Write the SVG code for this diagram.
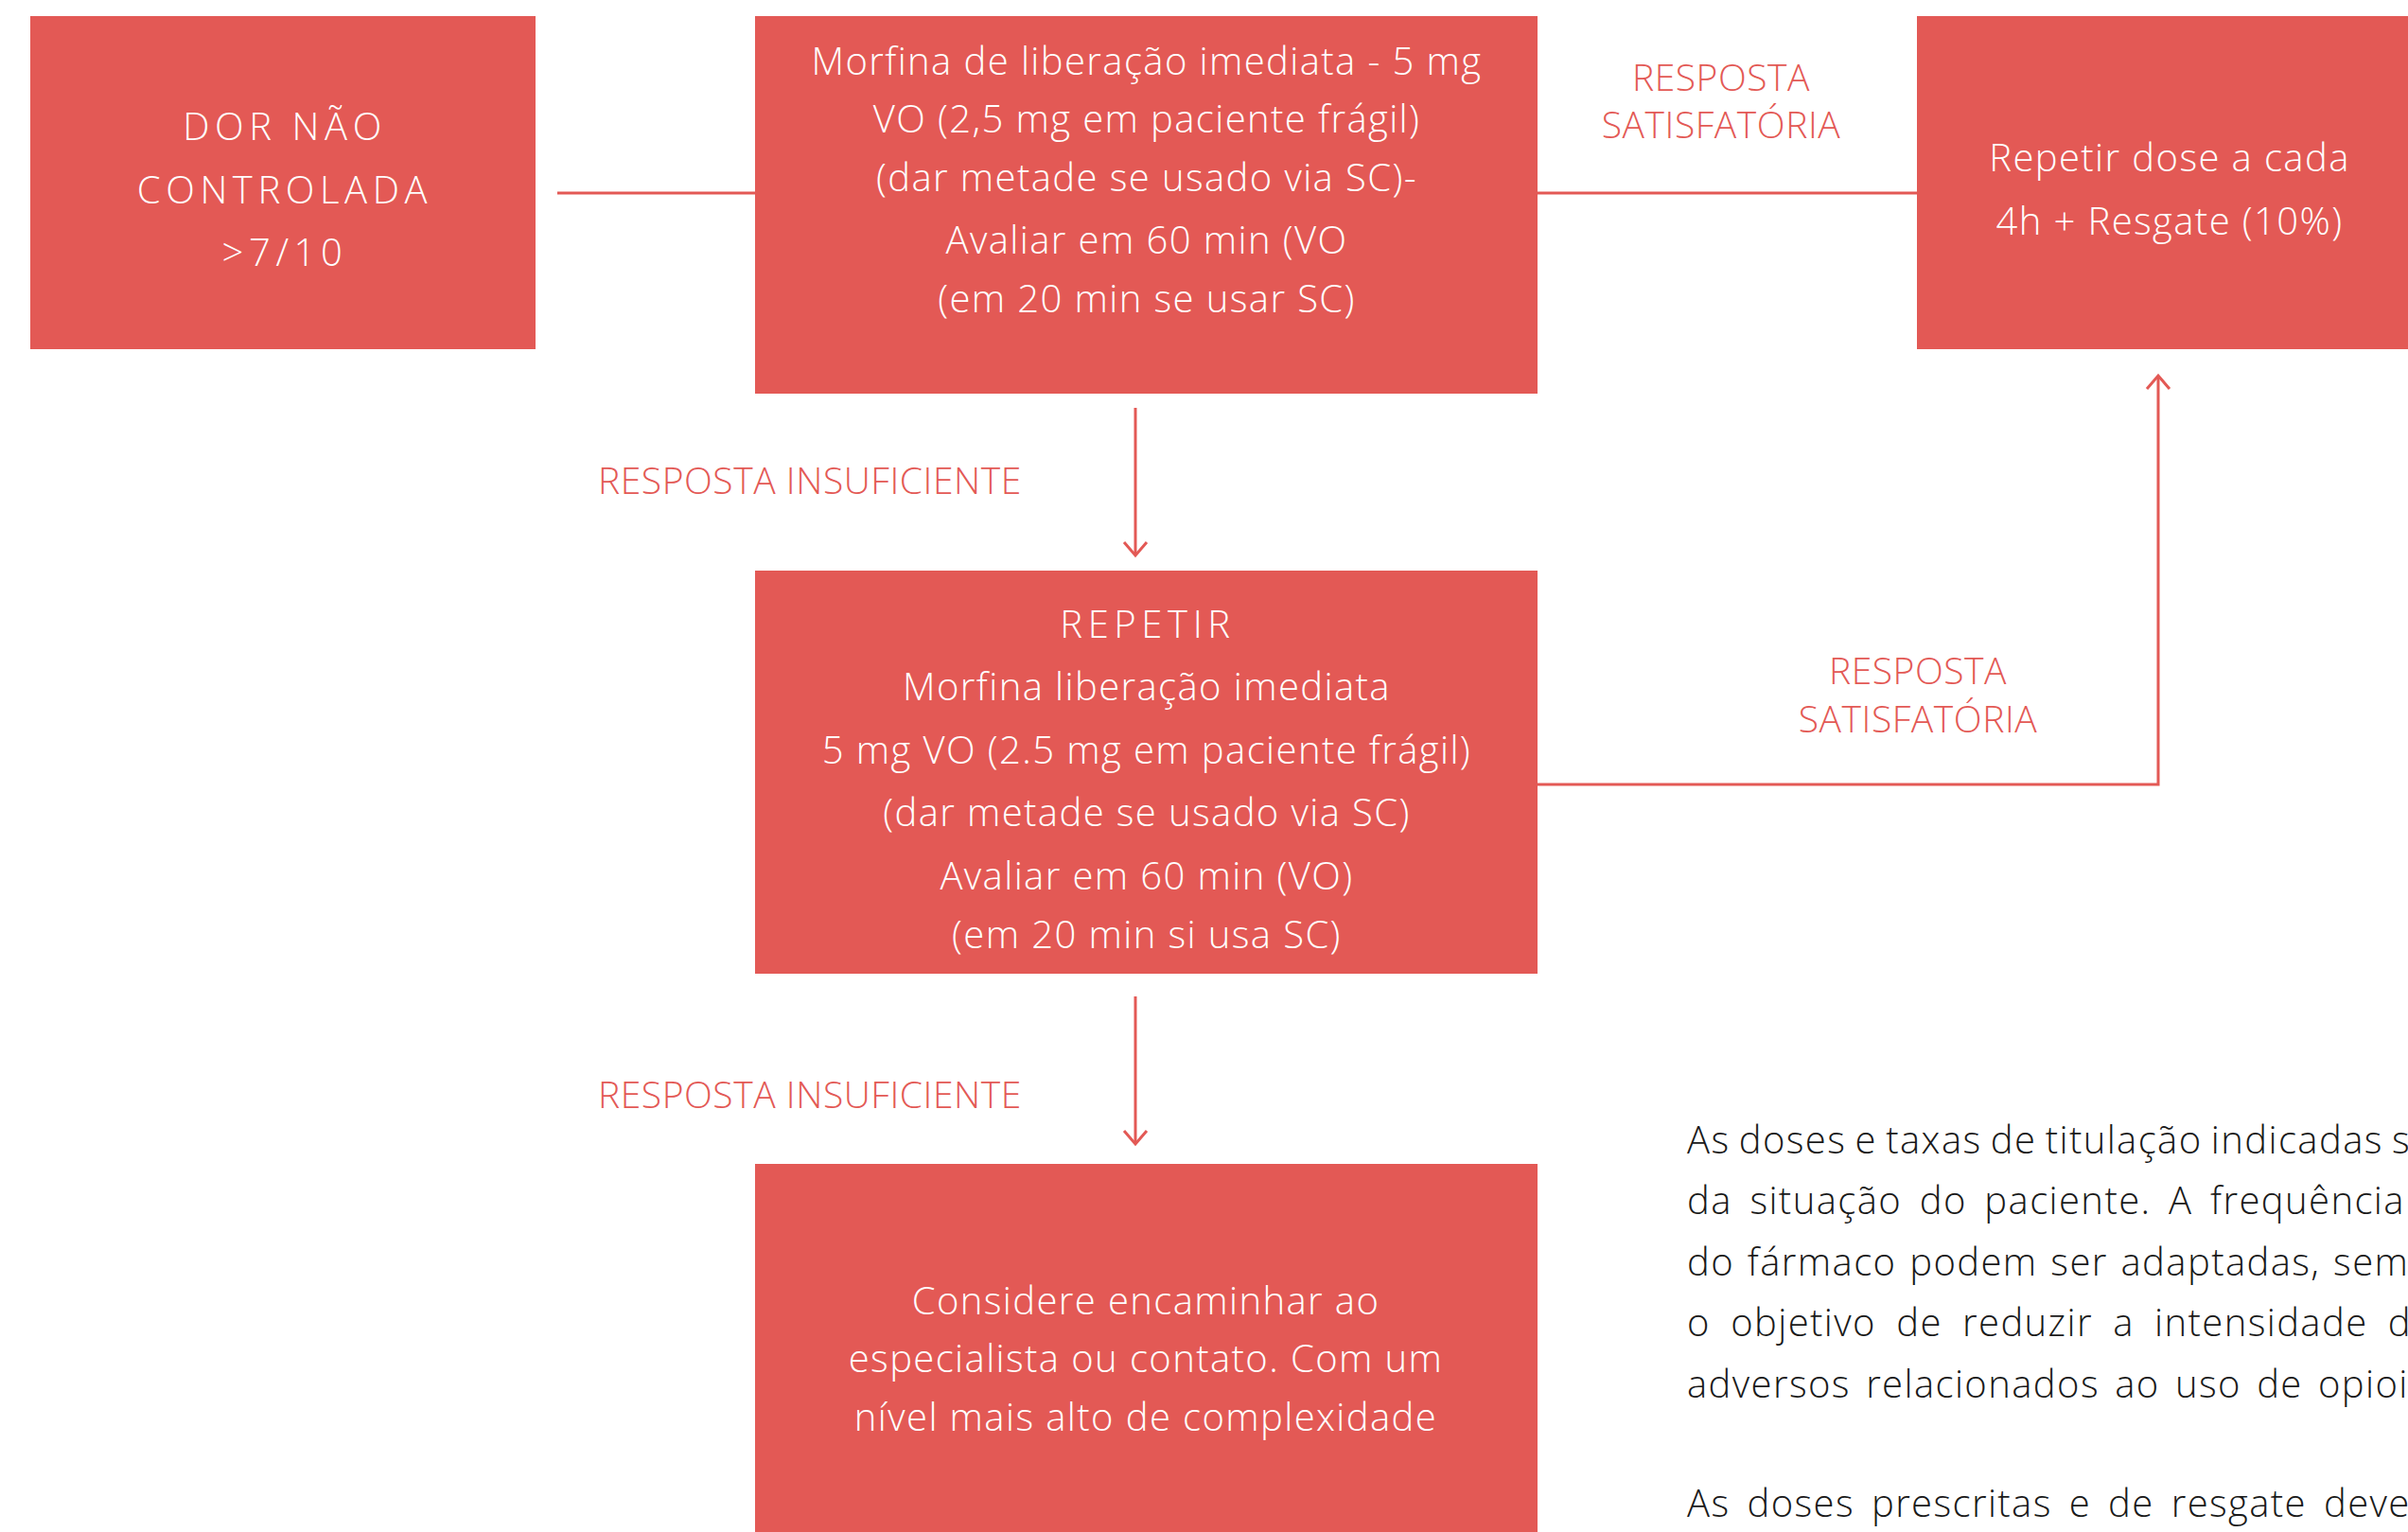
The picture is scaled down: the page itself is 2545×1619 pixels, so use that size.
<svg xmlns="http://www.w3.org/2000/svg" width="2545" height="1619" viewBox="0 0 2545 1619">
<defs>
<style>
.box{fill:#e35955}
.nt{font-family:"Open Sans","Liberation Sans",sans-serif;font-weight:300;font-size:40px;fill:#ffffff;text-anchor:middle;letter-spacing:1.4px}
.sp{letter-spacing:5.6px}
.lbl{font-family:"Open Sans","Liberation Sans",sans-serif;font-weight:300;font-size:39px;fill:#e35955;letter-spacing:0.55px}
.par{font-family:"Open Sans","Liberation Sans",sans-serif;font-weight:300;font-size:40px;fill:#1a1a1a;letter-spacing:1.4px}
.ln{fill:none;stroke:#e35955;stroke-width:3}
</style>
<marker id="arr" viewBox="-2 -2 20 28" markerWidth="20" markerHeight="28" refX="14" refY="12" orient="auto" markerUnits="userSpaceOnUse">
<path d="M0,0 L14,12 L0,24" fill="none" stroke="#e35955" stroke-width="3"/>
</marker>
</defs>
<rect width="2545" height="1619" fill="#ffffff"/>
<g id="connectors">
<path class="ln" d="M589,204 H798"/>
<path class="ln" d="M1625,204 H2026"/>
<path class="ln" d="M1200,431 V587" marker-end="url(#arr)"/>
<path class="ln" d="M1625,829 H2281 V397" marker-end="url(#arr)"/>
<path class="ln" d="M1200,1053 V1209" marker-end="url(#arr)"/>
<text class="lbl" x="1819" y="96" text-anchor="middle">RESPOSTA</text>
<text class="lbl" x="1819" y="146" text-anchor="middle">SATISFATÓRIA</text>
<text class="lbl" x="632" y="522">RESPOSTA INSUFICIENTE</text>
<text class="lbl" x="2027" y="723" text-anchor="middle">RESPOSTA</text>
<text class="lbl" x="2027" y="774" text-anchor="middle">SATISFATÓRIA</text>
<text class="lbl" x="632" y="1171">RESPOSTA INSUFICIENTE</text>
</g>
<g id="n1">
<rect class="box" x="32" y="17" width="534" height="352"/>
<text class="nt sp" x="301" y="148">DOR NÃO</text>
<text class="nt sp" x="301" y="215">CONTROLADA</text>
<text class="nt sp" x="301" y="281">&gt;7/10</text>
</g>
<g id="n2">
<rect class="box" x="798" y="17" width="827" height="399"/>
<text class="nt" x="1212" y="79">Morfina de liberação imediata - 5 mg</text>
<text class="nt" x="1212" y="140">VO (2,5 mg em paciente frágil)</text>
<text class="nt" x="1212" y="202">(dar metade se usado via SC)-</text>
<text class="nt" x="1212" y="268">Avaliar em 60 min (VO</text>
<text class="nt" x="1212" y="330">(em 20 min se usar SC)</text>
</g>
<g id="n3">
<rect class="box" x="2026" y="17" width="540" height="352"/>
<text class="nt" x="2293" y="181">Repetir dose a cada</text>
<text class="nt" x="2293" y="248">4h + Resgate (10%)</text>
</g>
<g id="n4">
<rect class="box" x="798" y="603" width="827" height="426"/>
<text class="nt sp" x="1213" y="674">REPETIR</text>
<text class="nt" x="1212" y="740">Morfina liberação imediata</text>
<text class="nt" x="1212" y="807">5 mg VO (2.5 mg em paciente frágil)</text>
<text class="nt" x="1212" y="873">(dar metade se usado via SC)</text>
<text class="nt" x="1212" y="940">Avaliar em 60 min (VO)</text>
<text class="nt" x="1212" y="1002">(em 20 min si usa SC)</text>
</g>
<g id="n5">
<rect class="box" x="798" y="1230" width="827" height="400"/>
<text class="nt" x="1211" y="1389">Considere encaminhar ao</text>
<text class="nt" x="1211" y="1450">especialista ou contato. Com um</text>
<text class="nt" x="1211" y="1512">nível mais alto de complexidade</text>
</g>
<g id="note">
<text class="par" x="1783" y="1219" word-spacing="-2.5">As doses e taxas de titulação indicadas s</text>
<text class="par" x="1783" y="1283" word-spacing="6.8">da situação do paciente. A frequência</text>
<text class="par" x="1783" y="1348" word-spacing="2">do fármaco podem ser adaptadas, sem</text>
<text class="par" x="1783" y="1412" word-spacing="9.5">o objetivo de reduzir a intensidade d</text>
<text class="par" x="1783" y="1477" word-spacing="4.5">adversos relacionados ao uso de opioi</text>
<text class="par" x="1783" y="1603" word-spacing="6.2">As doses prescritas e de resgate deve</text>
</g>
</svg>
